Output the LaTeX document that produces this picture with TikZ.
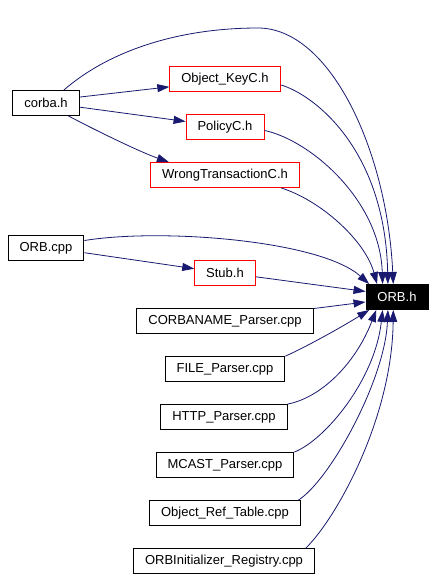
\documentclass[tikz,border=0pt]{standalone}
\usepackage{fontspec}
\setmainfont{Liberation Sans}
\usepackage{tikz}
\usetikzlibrary{arrows.meta}
\definecolor{edgeblue}{RGB}{25,25,112}

\begin{document}
\begin{tikzpicture}[x=1pt, y=-1pt,
    file/.style={draw, line width=0.9pt, minimum height=25pt, inner xsep=11.5pt, inner ysep=0pt, font=\fontsize{13}{15}\selectfont},
    hfile/.style={file, draw=red},
    incl/.style={->, >={Triangle[length=12pt, width=8pt]}, color=edgeblue, line width=0.8pt}]
      \useasboundingbox[fill=white] (0,0) rectangle (435,579);

      \node[file] (corba) at (46,103) {corba.h};
      \node[hfile] (objkey) at (225,79) {Object\_KeyC.h};
      \node[hfile] (policy) at (225,127) {PolicyC.h};
      \node[hfile] (wrongtx) at (225,175) {WrongTransactionC.h};
      \node[file] (orbcpp) at (46,248) {ORB.cpp};
      \node[hfile] (stub) at (225,273) {Stub.h};
      \node[file, fill=black, text=white] (orbh) at (397,297) {ORB.h};
      \node[file] (cname) at (225,321) {CORBANAME\_Parser.cpp};
      \node[file] (fileparser) at (225,369) {FILE\_Parser.cpp};
      \node[file] (http) at (224,417) {HTTP\_Parser.cpp};
      \node[file] (mcast) at (225,465) {MCAST\_Parser.cpp};
      \node[file] (objref) at (225,513) {Object\_Ref\_Table.cpp};
      \node[file] (orbinit) at (224,561) {ORBInitializer\_Registry.cpp};
      \coordinate (peak) at (258,28);

      \draw[incl] (corba.36) .. controls (110,50) and (180,28) .. (peak) .. controls (330,28) and (387,150) .. (orbh.106);
      \draw[incl] (corba.10) -- (objkey.188);
      \draw[incl] (corba.353) -- (policy.172);
      \draw[incl] (corba.330) .. controls (95,130) and (140,152) .. (wrongtx.167);
      \draw[incl] (objkey.354) .. controls (315,95) and (385,150) .. (orbh.125);
      \draw[incl] (policy.355) .. controls (310,140) and (380,200) .. (orbh.138);
      \draw[incl] (wrongtx.347) .. controls (320,200) and (365,240) .. (orbh.147);

      \draw[incl] (orbcpp.11) .. controls (160,228) and (320,240) .. (orbh.155);
      \draw[incl] (orbcpp.353) -- (stub.172);
      \draw[incl] (stub.353) -- (orbh.170);

      \draw[incl] (cname.8.5) -- (orbh.189);
      \draw[incl] (fileparser.12) .. controls (310,345) and (345,325) .. (orbh.205);
      \draw[incl] (http.north east) .. controls (320,398) and (355,365) .. (orbh.212);
      \draw[incl] (mcast.north east) .. controls (325,440) and (375,380) .. (orbh.222);
      \draw[incl] (objref.10) .. controls (330,480) and (385,380) .. (orbh.235);
      \draw[incl] (orbinit.9.5) .. controls (335,520) and (392,420) .. (orbh.254);
    \end{tikzpicture}
\end{document}
